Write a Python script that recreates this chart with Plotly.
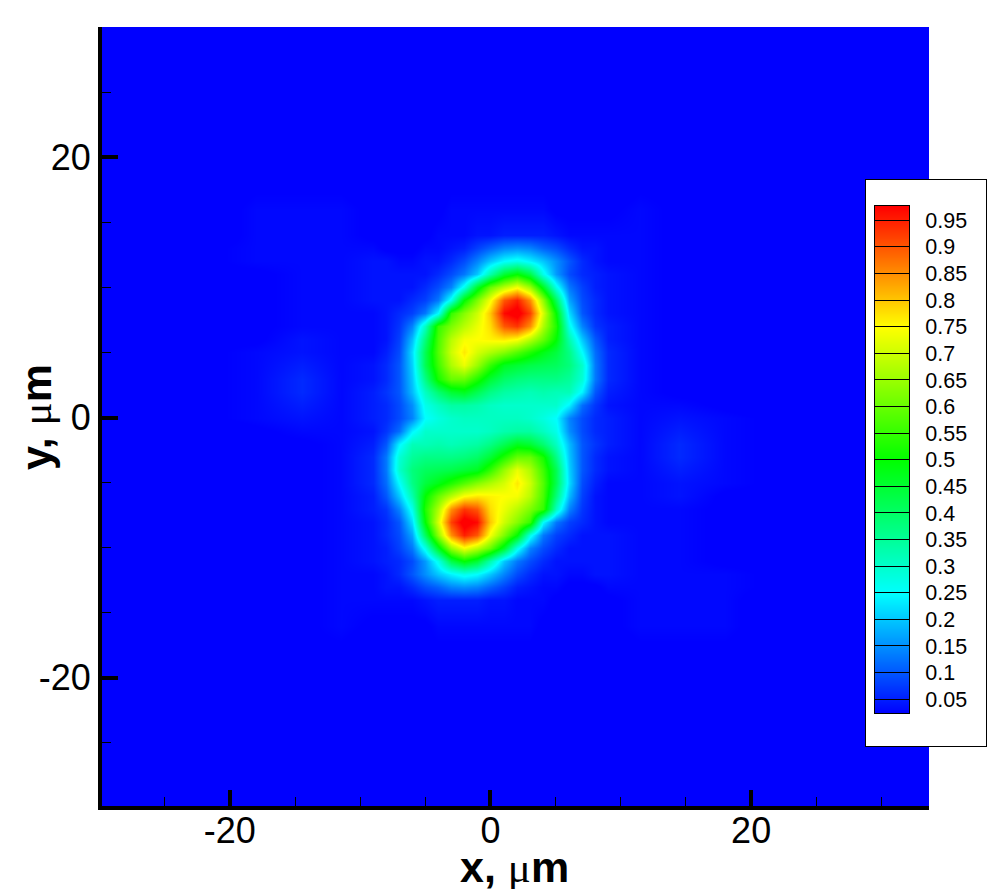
import plotly.graph_objects as go

# Grid positions (micrometres)
x_left = [-30, -22, -18, -14.5, -11.5]
x_core = [-9, -8, -7, -6, -5, -4, -3, -2, -1, 0, 1, 2, 3, 4, 5, 6, 7, 8, 9]
x_right = [11.5, 14.5, 18, 22, 34]
y_rows = [30, 22, 18, 16, 14, 13, 12, 11, 10, 9, 8, 7, 6, 5, 4, 3, 2, 1, 0,
          -1, -2, -3, -4, -5, -6, -7, -8, -9, -10, -11, -12, -13, -14, -16, -18, -22, -30]

# Field values, in percent, top row first
z_left = [
    [1, 1, 1, 1, 1], [1, 1, 1, 1, 1], [1, 1, 2, 2, 2], [1, 1, 3, 3, 3], [1, 1, 3, 3, 3],
    [1, 2, 3, 3, 3], [1, 2, 3, 3, 3], [1, 2, 2, 3, 3], [1, 2, 2, 3, 3], [1, 2, 2, 3, 3],
    [1, 2, 2, 3, 3], [1, 2, 2, 3, 3], [1, 2, 2, 4, 3], [1, 2, 3, 4, 3], [1, 2, 3, 5, 3],
    [1, 2, 3, 6, 3], [1, 2, 3, 6, 3], [1, 2, 3, 5, 3], [1, 2, 3, 4, 3],
    [1, 1, 2, 3, 3], [1, 1, 2, 2, 3], [1, 1, 2, 2, 3], [1, 1, 2, 2, 3], [1, 1, 2, 2, 3],
    [1, 1, 2, 2, 3], [1, 1, 2, 2, 3], [1, 1, 2, 2, 3], [1, 1, 2, 2, 3], [1, 1, 2, 2, 3],
    [1, 1, 2, 2, 3], [1, 1, 2, 2, 3], [1, 1, 1, 2, 3], [1, 1, 1, 2, 3], [1, 1, 1, 2, 3],
    [1, 1, 1, 2, 2], [1, 1, 1, 1, 1], [1, 1, 1, 1, 1],
]
z_core = [
    [1, 1, 1, 1, 1, 1, 1, 1, 1, 1, 1, 1, 1, 1, 1, 1, 1, 1, 1],
    [1, 1, 1, 1, 1, 1, 1, 1, 1, 1, 1, 1, 1, 1, 1, 1, 1, 1, 1],
    [1, 1, 1, 1, 1, 1, 2, 2, 2, 2, 2, 2, 2, 2, 2, 1, 1, 1, 1],
    [2, 2, 2, 2, 2, 2, 3, 3, 3, 3, 3, 3, 3, 3, 2, 2, 2, 2, 2],
    [2, 2, 2, 2, 2, 3, 3, 3, 4, 4, 5, 5, 5, 5, 4, 3, 3, 3, 3],
    [3, 2, 2, 2, 3, 3, 4, 5, 8, 11, 14, 15, 14, 11, 9, 6, 4, 4, 3],
    [4, 4, 3, 3, 4, 4, 6, 9, 14, 20, 25, 27, 24, 20, 15, 10, 6, 4, 3],
    [4, 4, 4, 4, 4, 6, 9, 13, 20, 33, 45, 50, 43, 27, 16, 9, 6, 5, 4],
    [4, 4, 4, 4, 6, 9, 14, 27, 46, 60, 68, 74, 65, 47, 27, 13, 8, 5, 4],
    [4, 4, 4, 6, 8, 13, 27, 50, 62, 74, 90, 95, 85, 64, 41, 17, 9, 6, 4],
    [3, 4, 6, 8, 13, 25, 55, 63, 70, 80, 97, 100, 92, 71, 50, 22, 10, 6, 4],
    [3, 4, 7, 14, 31, 55, 62, 68, 73, 78, 90, 93, 85, 67, 53, 27, 14, 7, 5],
    [3, 4, 8, 19, 38, 57, 68, 74, 75, 76, 77, 75, 68, 60, 50, 33, 20, 10, 5],
    [3, 5, 9, 22, 42, 58, 70, 77, 71, 67, 63, 58, 53, 48, 44, 37, 25, 12, 6],
    [4, 6, 10, 21, 42, 56, 67, 73, 65, 55, 47, 45, 43, 42, 41, 38, 30, 13, 6],
    [4, 6, 10, 20, 37, 52, 60, 60, 53, 45, 40, 38, 37, 37, 37, 35, 29, 13, 6],
    [5, 7, 10, 19, 31, 39, 45, 47, 42, 37, 34, 33, 32, 33, 32, 32, 24, 10, 5],
    [5, 6, 9, 15, 27, 31, 34, 34, 33, 31, 30, 30, 30, 30, 30, 24, 12, 7, 4],
    [5, 6, 9, 14, 25, 28, 30, 31, 31, 31, 31, 31, 30, 28, 25, 14, 9, 6, 5],
    [4, 7, 12, 24, 30, 30, 30, 30, 30, 31, 33, 34, 34, 31, 27, 15, 9, 6, 5],
    [5, 10, 24, 32, 32, 33, 32, 33, 34, 37, 42, 47, 45, 39, 31, 19, 10, 7, 5],
    [6, 13, 29, 35, 37, 37, 37, 38, 40, 45, 53, 60, 60, 52, 37, 20, 10, 6, 4],
    [6, 13, 30, 38, 41, 42, 43, 45, 47, 55, 65, 73, 67, 56, 42, 21, 10, 6, 4],
    [6, 12, 25, 37, 44, 48, 53, 58, 63, 67, 71, 77, 70, 58, 42, 22, 9, 5, 3],
    [5, 10, 20, 33, 50, 60, 68, 75, 77, 76, 75, 74, 68, 57, 38, 19, 8, 4, 3],
    [5, 7, 14, 27, 53, 67, 85, 93, 90, 78, 73, 68, 62, 55, 31, 14, 7, 4, 3],
    [4, 6, 10, 22, 50, 71, 92, 100, 97, 80, 70, 63, 55, 25, 13, 8, 6, 4, 3],
    [4, 6, 9, 17, 41, 64, 85, 95, 90, 74, 62, 50, 27, 13, 8, 6, 4, 4, 4],
    [4, 5, 8, 13, 27, 47, 65, 74, 68, 60, 46, 27, 14, 9, 6, 4, 4, 4, 4],
    [4, 5, 6, 9, 16, 27, 43, 50, 45, 33, 20, 13, 9, 6, 4, 4, 4, 4, 4],
    [3, 4, 6, 10, 15, 20, 24, 27, 25, 20, 14, 9, 6, 4, 4, 3, 3, 4, 4],
    [3, 4, 4, 6, 9, 11, 14, 15, 14, 11, 8, 5, 4, 3, 3, 2, 2, 2, 3],
    [3, 3, 3, 3, 4, 5, 5, 5, 5, 4, 4, 3, 3, 3, 2, 2, 2, 2, 2],
    [2, 2, 2, 2, 2, 3, 3, 3, 3, 3, 3, 3, 3, 2, 2, 2, 2, 2, 2],
    [1, 1, 1, 1, 2, 2, 2, 2, 2, 2, 2, 2, 2, 1, 1, 1, 1, 1, 1],
    [1, 1, 1, 1, 1, 1, 1, 1, 1, 1, 1, 1, 1, 1, 1, 1, 1, 1, 1],
    [1, 1, 1, 1, 1, 1, 1, 1, 1, 1, 1, 1, 1, 1, 1, 1, 1, 1, 1],
]
z_right = [
    [1, 1, 1, 1, 1], [1, 1, 1, 1, 1], [2, 2, 1, 1, 1], [3, 2, 1, 1, 1], [3, 2, 1, 1, 1],
    [3, 2, 1, 1, 1], [3, 2, 2, 1, 1], [3, 2, 2, 1, 1], [3, 2, 2, 1, 1], [3, 2, 2, 1, 1],
    [3, 2, 2, 1, 1], [3, 2, 2, 1, 1], [3, 2, 2, 1, 1], [3, 2, 2, 1, 1], [3, 2, 2, 1, 1],
    [3, 2, 2, 1, 1], [3, 2, 2, 1, 1], [3, 3, 2, 1, 1], [3, 4, 3, 2, 1],
    [3, 5, 3, 2, 1], [3, 6, 3, 2, 1], [3, 6, 3, 2, 1], [3, 5, 3, 2, 1], [3, 4, 3, 2, 1],
    [3, 4, 2, 2, 1], [3, 3, 2, 2, 1], [3, 3, 2, 2, 1], [3, 3, 2, 2, 1], [3, 3, 2, 2, 1],
    [3, 3, 2, 2, 1], [3, 3, 3, 2, 1], [3, 3, 3, 2, 1], [3, 3, 3, 1, 1], [3, 3, 3, 1, 1],
    [2, 2, 2, 1, 1], [1, 1, 1, 1, 1], [1, 1, 1, 1, 1],
]

axis_ticks = [-20, 0, 20]
axis_tick_labels = ["-20", "0", "20"]
level_values = [0.05, 0.1, 0.15, 0.2, 0.25, 0.3, 0.35, 0.4, 0.45, 0.5, 0.55, 0.6,
                0.65, 0.7, 0.75, 0.8, 0.85, 0.9, 0.95]
level_labels = ["0.05", "0.1", "0.15", "0.2", "0.25", "0.3", "0.35", "0.4", "0.45", "0.5",
                "0.55", "0.6", "0.65", "0.7", "0.75", "0.8", "0.85", "0.9", "0.95"]
legend_stops = [0.024, 0.25, 0.5, 0.75, 0.977]
legend_rows = [0.0, 0.024, 0.25, 0.5, 0.75, 0.977, 1.0]
stop_colors = ["#0000ff", "#00ffff", "#00ff00", "#ffff00", "#ff0000"]
z_min, z_max = legend_stops[0], legend_stops[-1]

x_all = x_left + x_core + x_right
rows_z = [[v / 100 for v in a + b + c] for a, b, c in zip(z_left, z_core, z_right)]
colorscale = [[(v - z_min) / (z_max - z_min), c] for v, c in zip(legend_stops, stop_colors)]

W, H = 1000, 889
SANS = "Liberation Sans, Arial, sans-serif"


def xdom(a, b):
    return [a / W, b / W]


def ydom(top, bottom):
    return [1 - bottom / H, 1 - top / H]


fig = go.Figure()
fig.add_trace(go.Heatmap(
    x=x_all, y=y_rows[::-1], z=rows_z[::-1], zmin=z_min, zmax=z_max,
    colorscale=colorscale, zsmooth="best", showscale=False, hoverinfo="skip",
    xaxis="x", yaxis="y"))
# legend panel
fig.add_trace(go.Heatmap(
    x=[0, 1], y=[0, 1], z=[[0, 0], [0, 0]], zmin=0, zmax=1,
    colorscale=[[0, "white"], [1, "white"]], showscale=False, hoverinfo="skip",
    xaxis="x2", yaxis="y2"))
# legend colour bar
fig.add_trace(go.Heatmap(
    x=[0, 1], y=legend_rows, z=[[v, v] for v in legend_rows], zmin=z_min, zmax=z_max,
    colorscale=colorscale, zsmooth="best", showscale=False, hoverinfo="skip",
    xaxis="x3", yaxis="y3"))


def axis(rng, domain, standoff):
    return dict(
        domain=domain, range=rng, autorange=False, showgrid=False, zeroline=False,
        showline=True, linewidth=4, linecolor="black", mirror=False,
        tickmode="array", tickvals=axis_ticks, ticktext=axis_tick_labels,
        ticks="inside", ticklen=16, tickwidth=4, tickcolor="black",
        ticklabelstandoff=standoff,
        minor=dict(dtick=5, tick0=0, ticks="inside", ticklen=9, tickwidth=1,
                   tickcolor="black", showgrid=False),
        tickfont=dict(family=SANS, size=36, color="black"),
        layer="above traces",
    )


def frame(domain, anchor, rng=(0, 1)):
    return dict(domain=domain, anchor=anchor, range=list(rng), autorange=False,
                showgrid=False, zeroline=False, showticklabels=False, ticks="",
                showline=True, linewidth=1, linecolor="black", mirror=True,
                layer="above traces")


MU = '<span style="font-family:Liberation Serif;font-weight:normal">\u03bc</span>'
bar_y = frame(ydom(206, 713), "x3", (z_min, z_max))
bar_y.update(side="right", showticklabels=True, tickmode="array", tickvals=level_values,
             ticktext=level_labels, ticks="inside", ticklen=34, tickwidth=1, tickcolor="black",
             ticklabelstandoff=11, tickfont=dict(family=SANS, size=21.5, color="black"))

title_font = dict(family=SANS, size=43, color="black")
fig.update_layout(
    width=W, height=H, autosize=False,
    margin=dict(l=0, r=0, t=0, b=0, pad=0),
    paper_bgcolor="white", plot_bgcolor="rgba(0,0,0,0)",
    xaxis=axis([-29.81, 33.65], xdom(102, 929), -10),
    yaxis=axis([-29.85, 30.01], ydom(27, 806), 0),
    xaxis2=frame(xdom(866, 986), "y2"),
    yaxis2=frame(ydom(180, 746), "x2"),
    xaxis3=frame(xdom(875, 909), "y3"),
    yaxis3=bar_y,
    annotations=[
        dict(text=f"<b>x, </b>{MU}<b>m</b>", xref="paper", yref="paper", showarrow=False,
             x=514.5 / W, y=1 - 867 / H, xanchor="center", yanchor="middle", font=title_font),
        dict(text=f"<b>y, </b>{MU}<b>m</b>", xref="paper", yref="paper", showarrow=False,
             textangle=-90, x=36 / W, y=1 - 417 / H, xanchor="center", yanchor="middle",
             font=title_font),
    ],
)

fig.write_html("out.html", config={"displayModeBar": False},
               post_script="document.body.style.margin='0';document.body.style.overflow='hidden';")
